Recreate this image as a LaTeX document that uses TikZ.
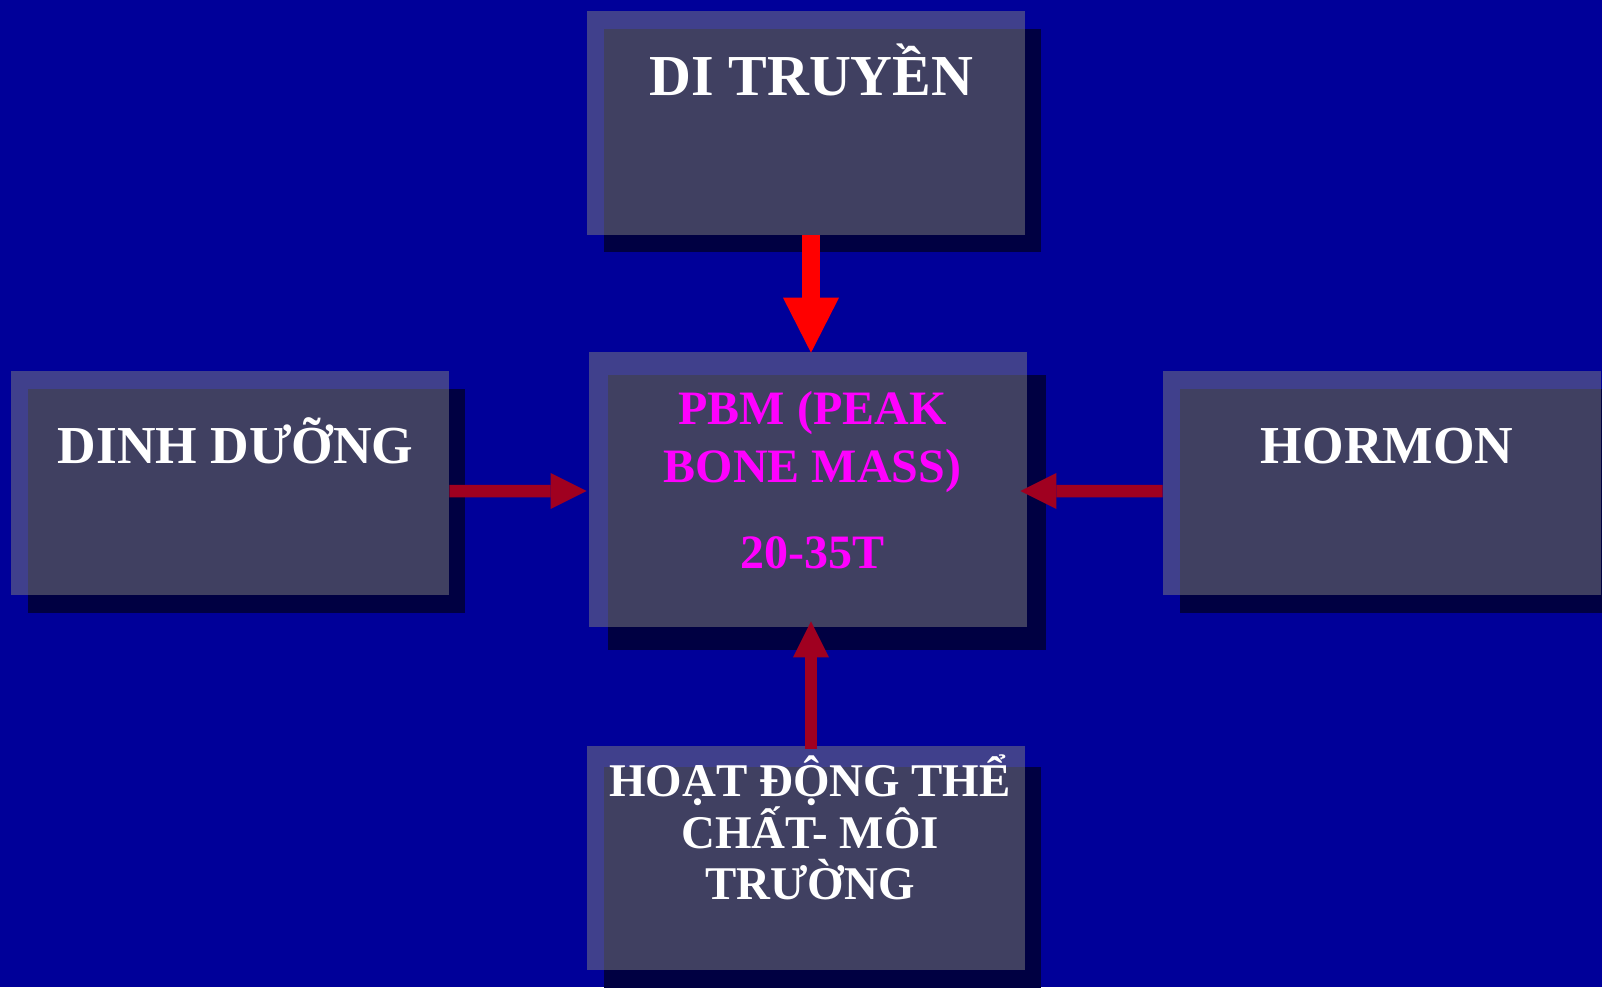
\documentclass[tikz,border=0pt]{standalone}
\usepackage{fontspec}
\setmainfont{Liberation Serif}
\usetikzlibrary{positioning,arrows.meta,calc,shadows}
\definecolor{slidebg}{HTML}{000099}
\definecolor{boxgray}{HTML}{808080}
\definecolor{shadeblue}{HTML}{000042}
\definecolor{arrred}{HTML}{FF0000}
\definecolor{arrdark}{HTML}{A00020}
\definecolor{pbmtxt}{HTML}{FF00FF}
\tikzset{
  fbox/.style={rectangle,fill=boxgray,fill opacity=0.5,inner sep=0pt,
    minimum width=8.76cm,minimum height=4.48cm},
  shd/.style 2 args={drop shadow={shadow xshift=#1,shadow yshift=#2,
    opacity=1,fill=shadeblue}},                        % dark offset shadow
  wtxt/.style={text=white,inner sep=0pt,anchor=base,align=center},
  % ---- arrows ----
  darrow/.style={-{Triangle[length=0.72cm,width=0.72cm,line width=0pt]},
    line width=0.25cm,draw=arrdark},
  rarrow/.style={-{Triangle[length=1.1cm,width=1.12cm,line width=0pt]},
    line width=0.36cm,draw=arrred},
}
\begin{document}
\begin{tikzpicture}[x=0.02cm,y=-0.02cm]
  \fill[slidebg] (0,0) rectangle (1602,987);
  \useasboundingbox (0,0) rectangle (1602,987);
  % boxes
  \node[fbox,shd={0.33cm}{-0.35cm}] (gen) at (806,123) {};
  \node[fbox,shd={0.38cm}{-0.46cm},minimum height=5.5cm] (pbm) at (808,489.5) {};
  \node[fbox,shd={0.33cm}{-0.36cm}] (din) at (230,483) {};
  \node[fbox,shd={0.33cm}{-0.36cm}] (hor) at (1382,483) {};
  \node[fbox,shd={0.33cm}{-0.42cm}] (act) at (806,858) {};
  % labels (base = last line)
  \node[wtxt,font=\fontsize{33}{38}\selectfont\bfseries] (tgen)
    at ($(gen.north)+(5.5,85)$) {DI TRUYỀN};
  \node[wtxt,font=\fontsize{30.4}{36}\selectfont\bfseries] (tdin)
    at ($(din.north)+(5.5,93)$) {DINH DƯỠNG};
  \node[wtxt,font=\fontsize{30.4}{36}\selectfont\bfseries] (thor)
    at ($(hor.north)+(5,93)$) {HORMON};
  \node[wtxt,font=\fontsize{26.7}{29.3}\selectfont\bfseries] (tact)
    at ($(act.north)+(4,154)$) {HOẠT ĐỘNG THỂ\\CHẤT- MÔI\\TRƯỜNG};
  \node[wtxt,text=pbmtxt,font=\fontsize{27.3}{33}\selectfont\bfseries] (tpbm)
    at ($(pbm.north)+(4.5,217)$) {PBM (PEAK\\BONE MASS)\\[16pt]20-35T};
  % arrows
  \draw[rarrow] ($(gen.south)+(5,0)$) -- ($(pbm.north)+(3,1)$);
  \draw[darrow] ($(din.east)+(0,8)$) -- ($(pbm.west)+(-2,1.5)$);
  \draw[darrow] ($(hor.west)+(0,8)$) -- ($(pbm.east)+(-7,1.5)$);
  \draw[darrow] ($(act.north)+(5,3)$) -- ($(pbm.south)+(3,-6)$);
\end{tikzpicture}
\end{document}
